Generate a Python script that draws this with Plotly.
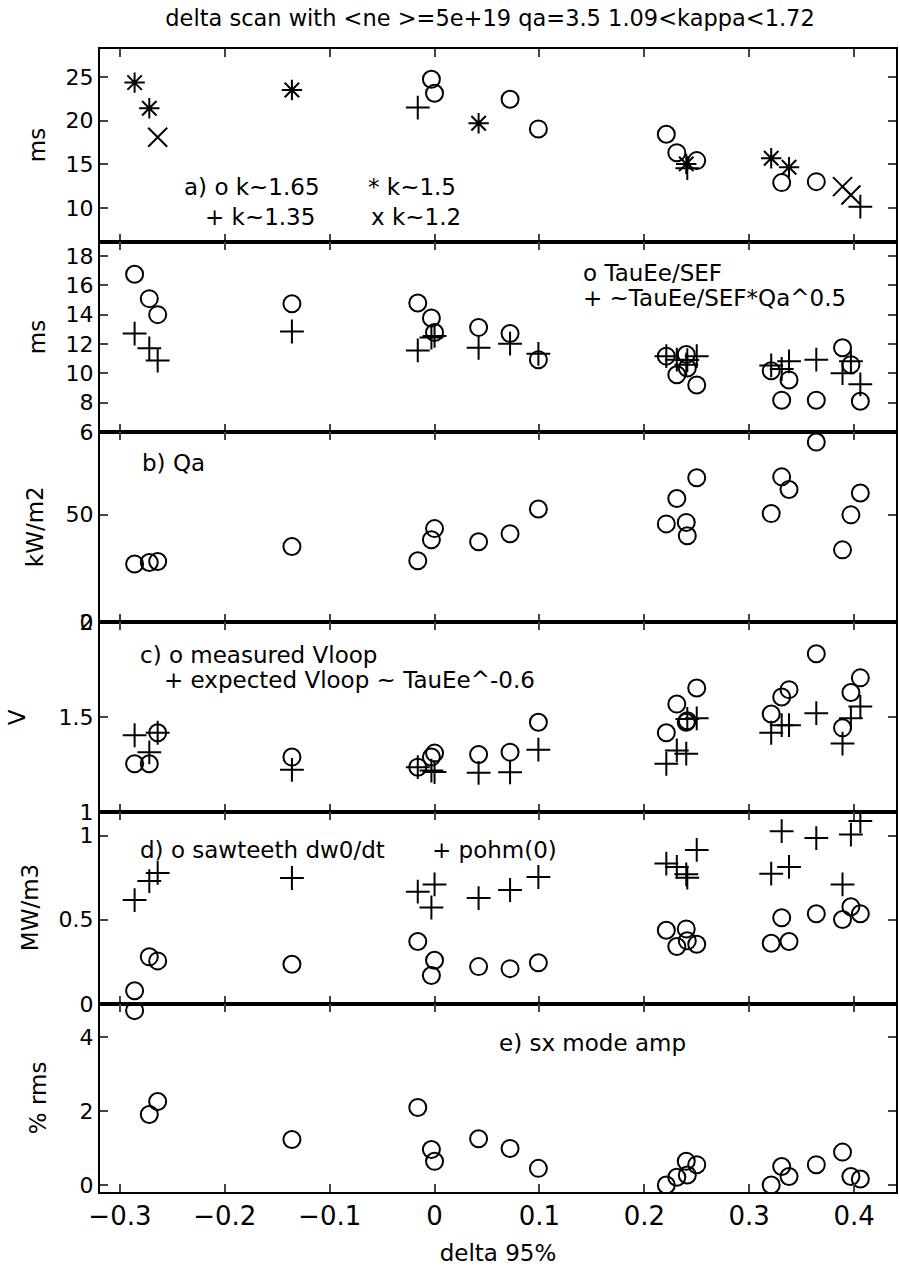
import plotly.graph_objects as go
from plotly.subplots import make_subplots

# ---------------- data ----------------
delta = [-0.286, -0.272, -0.264, -0.136, -0.016, -0.003, 0.000, 0.042, 0.072, 0.099,
         0.221, 0.231, 0.240, 0.241, 0.250, 0.321, 0.331, 0.338, 0.364, 0.389, 0.397, 0.406]
kappa_class = ["*", "*", "x", "*", "+", "o", "o", "*", "o", "o",
               "o", "o", "*", "+", "o", "*", "o", "*", "o", "x", "x", "+"]
tau_e = [24.35, 21.42, 18.1, 23.5, 21.49, 24.74, 23.14, 19.7, 22.45, 19.05,
         18.44, 16.33, 15.04, 14.55, 15.42, 15.69, 12.9, 14.66, 13.01, 12.44, 11.49, 10.15]
tau_sef = [16.75, 15.09, 14.0, 14.74, 14.79, 13.77, 12.78, 13.13, 12.71, 10.93,
           11.17, 9.9, 11.28, 10.36, 9.2, 10.17, 8.17, 9.55, 8.17, 11.74, 10.59, 8.1]
tau_sef_qa = [12.71, 11.7, 10.87, 12.85, 11.56, 12.44, 12.55, 11.74, 12.02, 11.33,
              11.17, 10.93, 10.59, 10.9, 11.17, 10.54, 10.3, 10.82, 10.93, 10.01, 10.82, 9.25]
qa = [27.0, 27.7, 28.2, 35.2, 28.5, 38.3, 43.5, 37.4, 41.1, 52.6,
      45.7, 57.5, 46.4, 40.2, 67.2, 50.5, 67.6, 61.7, 83.8, 33.6, 49.9, 60.1]
vloop_meas = [1.254, 1.254, 1.417, 1.289, 1.236, 1.289, 1.31, 1.303, 1.315, 1.472,
              1.417, 1.568, 1.472, 1.48, 1.653, 1.516, 1.605, 1.644, 1.833, 1.443, 1.629, 1.706]
vloop_exp = [1.404, 1.314, 1.417, 1.222, 1.236, 1.218, 1.21, 1.206, 1.209, 1.328,
             1.254, 1.324, 1.307, 1.49, 1.493, 1.417, 1.457, 1.457, 1.52, 1.36, 1.493, 1.555]
saw_dw0dt = [0.079, 0.28, 0.256, 0.236, 0.371, 0.169, 0.26, 0.222, 0.21, 0.245,
             0.438, 0.341, 0.446, 0.375, 0.355, 0.361, 0.512, 0.371, 0.536, 0.502, 0.577, 0.536]
pohm0 = [0.617, 0.73, 0.778, 0.748, 0.667, 0.573, 0.71, 0.629, 0.677, 0.754,
         0.834, 0.814, 0.77, 0.75, 0.915, 0.774, 1.026, 0.814, 0.985, 0.71, 1.006, 1.086]
sx_amp = [4.72, 1.91, 2.26, 1.23, 2.1, 0.96, 0.64, 1.25, 0.99, 0.45,
          0.0, 0.21, 0.64, 0.27, 0.55, 0.0, 0.5, 0.23, 0.55, 0.89, 0.23, 0.16]

x_ticks = [-0.3, -0.2, -0.1, 0, 0.1, 0.2, 0.3, 0.4]
y_ticks = [[10, 15, 20, 25], [6, 8, 10, 12, 14, 16, 18], [0, 50], [1, 1.5, 2], [0, 0.5, 1], [0, 2, 4]]
y_ranges = [[6.1, 28.2], [6, 18.95], [0, 88.5], [1, 2], [0, 1.14], [-0.19, 4.9]]
y_titles = ["ms", "ms", "kW/m2", "V", "MW/m3", "% rms"]

FONT = "DejaVu Sans, Liberation Sans, Arial, sans-serif"
SYMBOLS = {"o": "circle-open", "*": "asterisk-open", "+": "cross-thin-open", "x": "x-thin-open"}
SIZES = {"o": 17, "*": 17, "+": 17, "x": 19}


def mk(sym):
    return dict(symbol=SYMBOLS[sym], size=SIZES[sym], color="black",
                line=dict(width=2, color="black"))


fig = make_subplots(rows=6, cols=1, shared_xaxes=True, vertical_spacing=0)

# a) confinement time by kappa group
for cls in ["o", "*", "+", "x"]:
    xs = [d for d, c in zip(delta, kappa_class) if c == cls]
    ys = [t for t, c in zip(tau_e, kappa_class) if c == cls]
    fig.add_trace(go.Scatter(x=xs, y=ys, mode="markers", marker=mk(cls)), row=1, col=1)

# second panel
fig.add_trace(go.Scatter(x=delta, y=tau_sef, mode="markers", marker=mk("o")), row=2, col=1)
fig.add_trace(go.Scatter(x=delta, y=tau_sef_qa, mode="markers", marker=mk("+")), row=2, col=1)
# b) Qa
fig.add_trace(go.Scatter(x=delta, y=qa, mode="markers", marker=mk("o")), row=3, col=1)
# c) Vloop
fig.add_trace(go.Scatter(x=delta, y=vloop_meas, mode="markers", marker=mk("o")), row=4, col=1)
fig.add_trace(go.Scatter(x=delta, y=vloop_exp, mode="markers", marker=mk("+")), row=4, col=1)
# d) sawteeth / pohm
fig.add_trace(go.Scatter(x=delta, y=saw_dw0dt, mode="markers", marker=mk("o")), row=5, col=1)
fig.add_trace(go.Scatter(x=delta, y=pohm0, mode="markers", marker=mk("+")), row=5, col=1)
# e) sx mode amp
fig.add_trace(go.Scatter(x=delta, y=sx_amp, mode="markers", marker=mk("o")), row=6, col=1)

# pixel layout of the panels (screen px)
H, W = 1272, 900
L, R, T, B = 100, 2, 49, 80
bounds = [49, 242, 432, 622, 812, 1004, 1192]
plot_h = H - T - B


def py2paper(py):
    return (1192 - py) / plot_h


def px2paper(px):
    return (px - L) / (W - L - R)


for i in range(6):
    n = "" if i == 0 else str(i + 1)
    fig.layout["yaxis" + n].update(
        domain=[py2paper(bounds[i + 1]), py2paper(bounds[i])],
        range=y_ranges[i], tickvals=y_ticks[i], ticks="inside", ticklen=8, tickwidth=2,
        showline=True, linewidth=2, linecolor="black", mirror="ticks", showgrid=False,
        zeroline=False, tickfont=dict(size=22, color="black", family=FONT),
    )
    fig.layout["xaxis" + n].update(
        range=[-0.319, 0.440], tickvals=x_ticks, ticks="inside", ticklen=8, tickwidth=2,
        showline=True, linewidth=2, linecolor="black", mirror="ticks", showgrid=False,
        zeroline=False, showticklabels=(i == 5),
        tickfont=dict(size=26, color="black", family=FONT),
    )

fig.layout.xaxis6.update(title=dict(text="delta 95%", font=dict(size=23, color="black", family=FONT),
                                    standoff=15))

ann = []
# y-axis titles (positioned as in the reference)
ytitle_pos = [(37, 145), (37, 337), (35, 527), (17, 717), (30, 908), (38, 1098)]
for txt, (px, py) in zip(y_titles, ytitle_pos):
    ann.append(dict(text=txt, x=px2paper(px), y=py2paper(py), xref="paper", yref="paper",
                    textangle=-90, showarrow=False, xanchor="center", yanchor="middle",
                    font=dict(size=23, color="black", family=FONT)))

labels = [
    ("a) o k~1.65", 182, 187), ("* k~1.5", 367, 187),
    ("+ k~1.35", 203, 217), ("x k~1.2", 370, 217),
    ("o TauEe/SEF", 582, 273), ("+ ~TauEe/SEF*Qa^0.5", 582, 298),
    ("b) Qa", 140, 463),
    ("c) o measured Vloop", 138, 655), ("+ expected Vloop ~ TauEe^-0.6", 162, 680),
    ("d) o sawteeth dw0/dt", 138, 850), ("+ pohm(0)", 431, 850),
    ("e) sx mode amp", 498, 1043),
]
for txt, px, py in labels:
    ann.append(dict(text=txt, x=px2paper(px), y=py2paper(py), xref="paper", yref="paper",
                    showarrow=False, xanchor="left", yanchor="middle",
                    font=dict(size=23, color="black", family=FONT)))

fig.update_layout(
    width=W, height=H,
    margin=dict(l=L, r=R, t=T, b=B),
    paper_bgcolor="white", plot_bgcolor="white",
    showlegend=False,
    font=dict(family=FONT, color="black"),
    title=dict(text="delta scan with &lt;ne &gt;=5e+19 qa=3.5 1.09&lt;kappa&lt;1.72",
               x=px2paper(491), xref="paper", xanchor="center",
               y=1 - 18 / H, yref="container", yanchor="middle",
               font=dict(size=22.5, color="black", family=FONT)),
    annotations=ann,
)

fig.write_html("out.html")
